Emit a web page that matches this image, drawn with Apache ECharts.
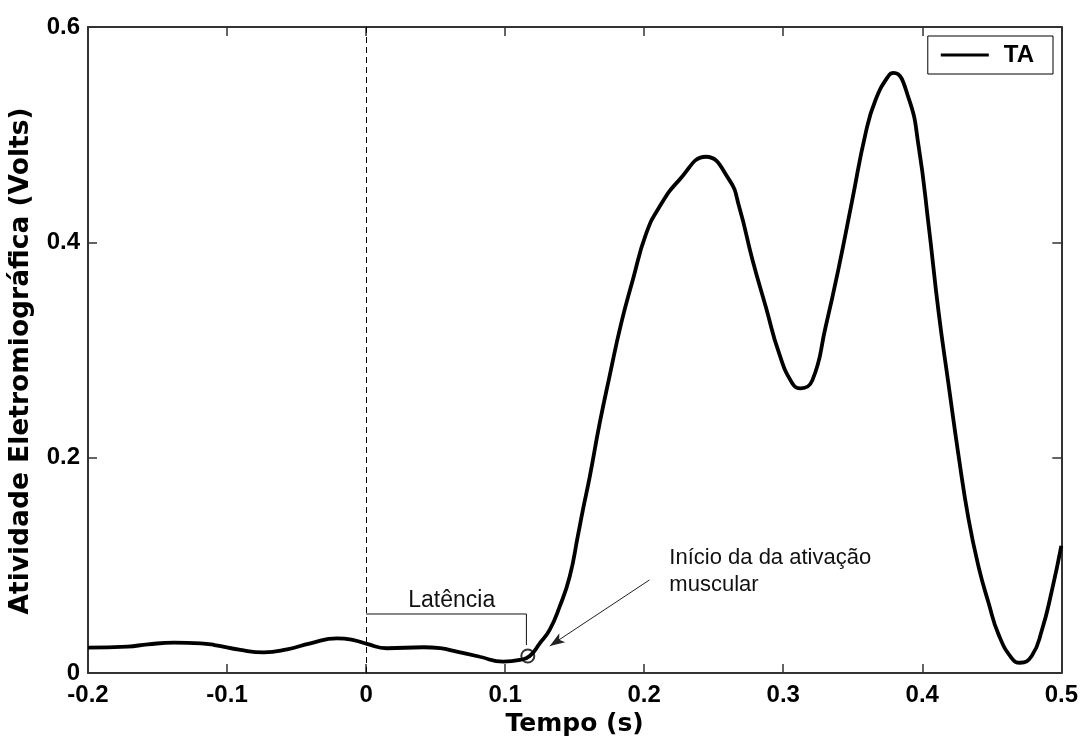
<!DOCTYPE html>
<html>
<head>
<meta charset="utf-8">
<script src="https://cdn.jsdelivr.net/npm/echarts@6/dist/echarts.min.js"></script>
<style>
  html, body { margin: 0; padding: 0; background: #ffffff; }
  #chart { width: 1081px; height: 743px; }
</style>
</head>
<body>
<div id="chart"></div>
<script>
// ---- Data ----
const timeValues = [
  -0.2, -0.1716, -0.157, -0.138, -0.119, -0.109, -0.0903, -0.0736, -0.0568, -0.040,
  -0.0209, -0.009, 0.0006, 0.015, 0.0412, 0.0532, 0.0652, 0.0818, 0.0986, 0.1106,
  0.1177, 0.1249, 0.132, 0.1392, 0.1464, 0.1524, 0.156, 0.1608, 0.168, 0.175,
  0.1835, 0.1918, 0.2014, 0.211, 0.2253, 0.2444, 0.2612, 0.2683, 0.2779, 0.2875,
  0.297, 0.3066, 0.3126, 0.321, 0.3305, 0.340, 0.3496, 0.3592, 0.3663, 0.3759,
  0.3795, 0.3903, 0.3974, 0.4046, 0.4118, 0.4189, 0.4261, 0.4333, 0.4405, 0.4476,
  0.4548, 0.4643, 0.4703, 0.4787, 0.4860, 0.4932, 0.5
];
const taValues = [
  0.0235, 0.0245, 0.0266, 0.0282, 0.0276, 0.026, 0.0214, 0.0192, 0.022, 0.0276,
  0.0322, 0.0306, 0.027, 0.023, 0.0239, 0.023, 0.0198, 0.0151, 0.0105, 0.0121,
  0.0158, 0.0276, 0.040, 0.0616, 0.0894, 0.128, 0.152, 0.182, 0.232, 0.275,
  0.325, 0.365, 0.408, 0.433, 0.458, 0.4795, 0.458, 0.433, 0.3836, 0.340,
  0.297, 0.269, 0.2644, 0.272, 0.3216, 0.377, 0.439, 0.501, 0.532, 0.555,
  0.5574, 0.5334, 0.489, 0.4155, 0.3345, 0.268, 0.2018, 0.1428, 0.0986, 0.0655,
  0.036, 0.0139, 0.0095, 0.0158, 0.0397, 0.0765, 0.118
];
const xTickValues = [-0.2, -0.1, 0, 0.1, 0.2, 0.3, 0.4, 0.5];
const yTickValues = [0, 0.2, 0.4, 0.6];
const seriesName = 'TA';
const xTitle = 'Tempo (s)';
const yTitle = 'Atividade Eletromiográfica (Volts)';
const stimulusTime = 0;
const onsetPoint = [0.1163, 0.0158];
const latencyBracket = [[0, 0.0548], [0.1153, 0.0548], [0.1153, 0.026]];
const arrowFrom = [0.2038, 0.0864];
const arrowTo = [0.1321, 0.0251];
const latencyLabel = { text: 'Latência', at: [0.0616, 0.0673] };
const onsetLabel = { text: 'Início da da ativação\nmuscular', at: [0.2181, 0.1198] };

// ---- Chart ----
const chart = echarts.init(document.getElementById('chart'), null, { renderer: 'canvas' });
const mainData = timeValues.map((t, i) => [t, taValues[i]]);
const axisColor = '#333';
const tickFont = { color: '#000', fontFamily: 'Liberation Sans, Arial, sans-serif', fontWeight: 'bold', fontSize: 24 };
const titleFont = { color: '#000', fontFamily: 'DejaVu Sans, sans-serif', fontWeight: 'bold', fontSize: 25 };

const xMin = xTickValues[0], xMax = xTickValues[xTickValues.length - 1];
const yMin = yTickValues[0], yMax = yTickValues[yTickValues.length - 1];

const option = {
  backgroundColor: '#ffffff',
  animation: false,
  grid: { left: 87, top: 27, width: 975, height: 646, show: false },
  legend: {
    data: [seriesName],
    right: 28, top: 36,
    backgroundColor: '#ffffff',
    borderColor: '#000', borderWidth: 1, borderRadius: 0,
    padding: [7, 19, 7, 13],
    icon: 'rect', itemWidth: 48, itemHeight: 3,
    textStyle: { color: '#000', fontFamily: 'Liberation Sans, Arial, sans-serif', fontWeight: 'bold', fontSize: 24, padding: [0, 0, 0, 10] }
  },
  xAxis: [
    {
      type: 'value', min: xMin, max: xMax, interval: 0.1, position: 'bottom',
      axisLine: { show: true, onZero: false, lineStyle: { color: axisColor, width: 2 } },
      axisTick: { show: true, inside: true, length: 9, lineStyle: { color: axisColor, width: 1.5 } },
      axisLabel: Object.assign({ margin: 10 }, tickFont),
      splitLine: { show: false },
      name: xTitle, nameLocation: 'middle', nameGap: 34, nameTextStyle: titleFont
    },
    {
      type: 'value', min: xMin, max: xMax, interval: 0.1, position: 'top',
      axisLine: { show: true, onZero: false, lineStyle: { color: axisColor, width: 2 } },
      axisTick: { show: true, inside: true, length: 9, lineStyle: { color: axisColor, width: 1.5 } },
      axisLabel: { show: false }, splitLine: { show: false }
    }
  ],
  yAxis: [
    {
      type: 'value', min: yMin, max: yMax, interval: 0.2, position: 'left',
      axisLine: { show: true, onZero: false, lineStyle: { color: axisColor, width: 2 } },
      axisTick: { show: true, inside: true, length: 9, lineStyle: { color: axisColor, width: 1.5 } },
      axisLabel: Object.assign({ margin: 8 }, tickFont),
      splitLine: { show: false },
      name: yTitle, nameLocation: 'middle', nameGap: 53,
      nameTextStyle: Object.assign({ padding: [0, 22, 0, 0] }, titleFont, { fontSize: 26.5 })
    },
    {
      type: 'value', min: yMin, max: yMax, interval: 0.2, position: 'right',
      axisLine: { show: true, onZero: false, lineStyle: { color: axisColor, width: 2 } },
      axisTick: { show: true, inside: true, length: 9, lineStyle: { color: axisColor, width: 1.5 } },
      axisLabel: { show: false }, splitLine: { show: false }
    }
  ],
  series: [
    {
      name: 'bracket', type: 'line', data: latencyBracket,
      showSymbol: false, symbol: 'none', silent: true, z: 2,
      lineStyle: { color: '#111', width: 1 }
    },
    {
      name: seriesName, type: 'line', data: mainData,
      showSymbol: false, symbol: 'none', smooth: 0.5, z: 3,
      itemStyle: { color: '#000' },
      lineStyle: { color: '#000', width: 3.8 },
      markLine: {
        silent: true, symbol: 'none', label: { show: false },
        lineStyle: { color: '#000', type: [6, 4], width: 1 },
        data: [{ xAxis: stimulusTime }]
      }
    },
    {
      name: 'onset', type: 'scatter', data: [onsetPoint],
      symbol: 'circle', symbolSize: 13, silent: true, z: 4,
      itemStyle: { color: 'rgba(0,0,0,0)', borderColor: '#000', borderWidth: 2 },
      markLine: {
        silent: true, animation: false,
        symbol: ['none', 'arrow'], symbolSize: [8, 15],
        label: { show: false },
        lineStyle: { color: '#222', type: 'solid', width: 1 },
        data: [[{ coord: arrowFrom }, { coord: arrowTo }]]
      }
    }
  ]
};
chart.setOption(option);

function placeLabels() {
  const p1 = chart.convertToPixel({ gridIndex: 0 }, latencyLabel.at);
  const p2 = chart.convertToPixel({ gridIndex: 0 }, onsetLabel.at);
  chart.setOption({
    graphic: [
      {
        type: 'text', x: p1[0], y: p1[1], silent: true,
        style: { text: latencyLabel.text, align: 'center', verticalAlign: 'middle',
          fontFamily: 'Liberation Sans, Arial, sans-serif', fontSize: 23, fill: '#111' }
      },
      {
        type: 'text', x: p2[0], y: p2[1], silent: true,
        style: { text: onsetLabel.text, align: 'left', verticalAlign: 'top', lineHeight: 27,
          fontFamily: 'Liberation Sans, Arial, sans-serif', fontSize: 22, fill: '#111' }
      }
    ]
  });
}
placeLabels();
</script>
</body>
</html>
